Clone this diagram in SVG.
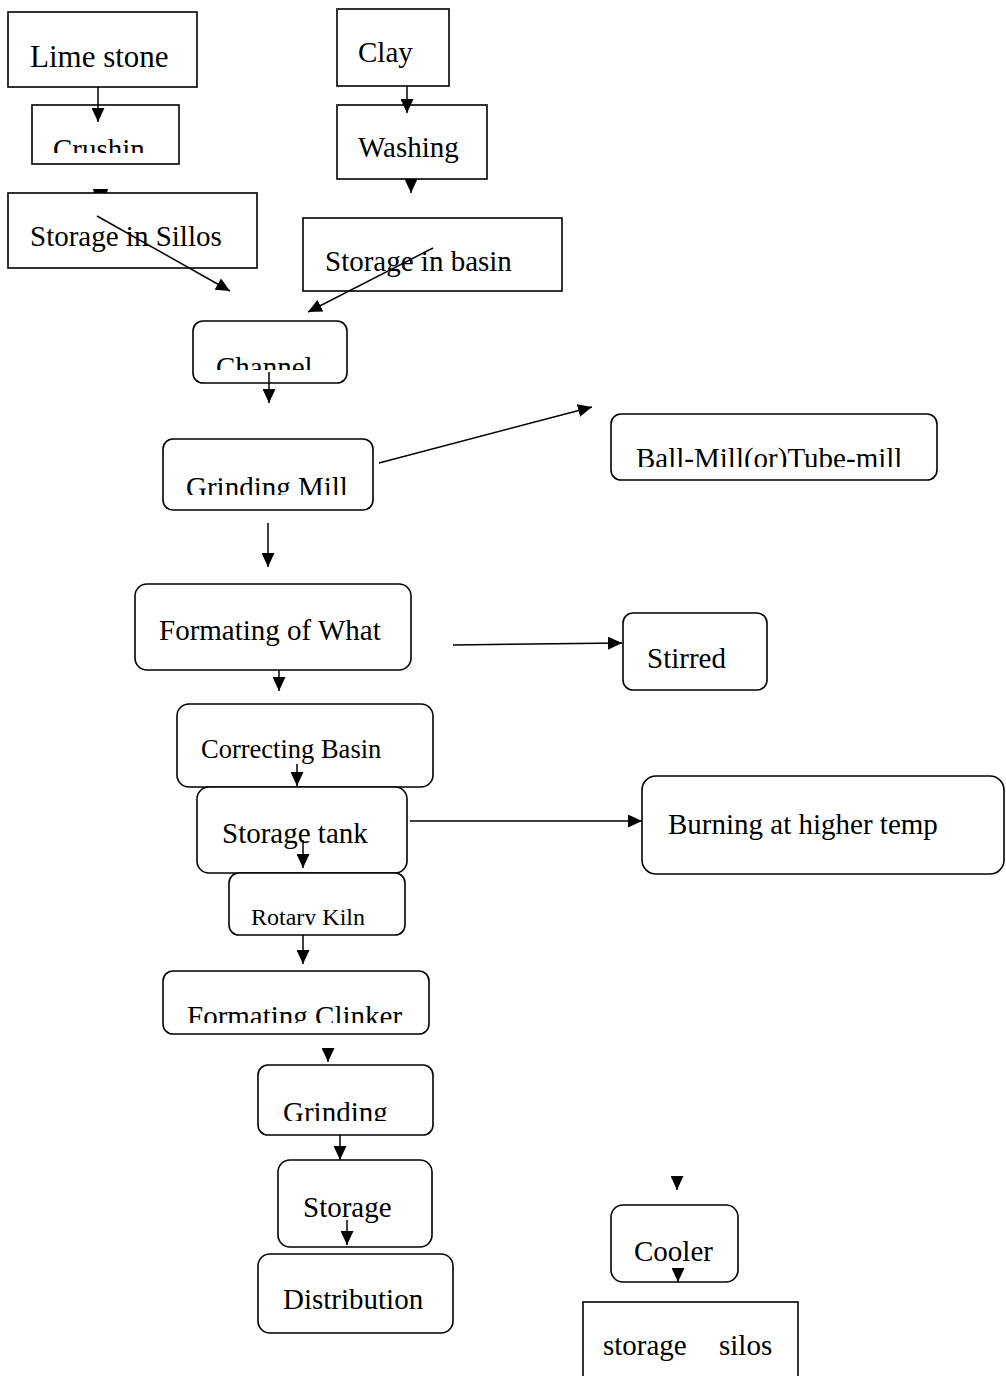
<svg xmlns="http://www.w3.org/2000/svg" width="1006" height="1376" viewBox="0 0 1006 1376">
<style>
.box{fill:#fff;stroke:#000;stroke-width:1.6}
.t{font-family:"Liberation Serif","Times New Roman",serif;font-size:29px;fill:#000}
.c{stroke:#000;stroke-width:1.5;fill:none;marker-end:url(#ah)}
</style>
<defs>
<marker id="ah" viewBox="0 0 10 10" refX="10" refY="5" markerWidth="14" markerHeight="13" markerUnits="userSpaceOnUse" orient="auto" preserveAspectRatio="none"><path d="M0,0 L10,5 L0,10 z" fill="#000"/></marker>
<clipPath id="cpCrush"><rect x="32" y="105" width="147" height="48"/></clipPath>
<clipPath id="cpChan"><rect x="193" y="321" width="154" height="49"/></clipPath>
<clipPath id="cpGM"><rect x="163" y="439" width="210" height="56"/></clipPath>
<clipPath id="cpBall"><rect x="611" y="414" width="326" height="53"/></clipPath>
<clipPath id="cpRot"><rect x="229" y="873" width="176" height="52"/></clipPath>
<clipPath id="cpClk"><rect x="163" y="971" width="266" height="52"/></clipPath>
<clipPath id="cpGr"><rect x="258" y="1065" width="175" height="56"/></clipPath>
</defs>
<rect width="1006" height="1376" fill="#fff"/>
<g id="nodes">
<g id="limestone"><rect class="box" x="8" y="12" width="189" height="75"/><text class="t" x="30" y="67" style="font-size:31px">Lime stone</text></g>
<g id="crushing"><rect class="box" x="32" y="105" width="147" height="59"/><text class="t" x="53" y="159" clip-path="url(#cpCrush)">Crushin</text></g>
<g id="storage-sillos"><rect class="box" x="8" y="193" width="249" height="75"/><text class="t" x="30" y="246">Storage in Sillos</text></g>
<g id="clay"><rect class="box" x="337" y="9" width="112" height="77"/><text class="t" x="358" y="62">Clay</text></g>
<g id="washing"><rect class="box" x="337" y="105" width="150" height="74"/><text class="t" x="358" y="157">Washing</text></g>
<g id="storage-basin"><rect class="box" x="303" y="218" width="259" height="73"/><text class="t" x="325" y="271">Storage in basin</text></g>
<g id="channel"><rect class="box" x="193" y="321" width="154" height="62" rx="10"/><text class="t" x="216" y="377" clip-path="url(#cpChan)">Channel</text></g>
<g id="grinding-mill"><rect class="box" x="163" y="439" width="210" height="71" rx="10"/><text class="t" x="186" y="497" clip-path="url(#cpGM)">Grinding Mill</text></g>
<g id="ball-mill"><rect class="box" x="611" y="414" width="326" height="66" rx="10"/><text class="t" x="636" y="468" clip-path="url(#cpBall)">Ball-Mill(or)Tube-mill</text></g>
<g id="formating-what"><rect class="box" x="135" y="584" width="276" height="86" rx="12"/><text class="t" x="159" y="640">Formating of What</text></g>
<g id="stirred"><rect class="box" x="623" y="613" width="144" height="77" rx="10"/><text class="t" x="647" y="668">Stirred</text></g>
<g id="correcting-basin"><rect class="box" x="177" y="704" width="256" height="83" rx="12"/><text class="t" x="201" y="758" style="font-size:26.5px">Correcting Basin</text></g>
<g id="storage-tank"><rect class="box" x="197" y="787" width="210" height="86" rx="12"/><text class="t" x="222" y="843">Storage tank</text></g>
<g id="burning"><rect class="box" x="642" y="776" width="362" height="98" rx="14"/><text class="t" x="668" y="834">Burning at higher temp</text></g>
<g id="rotary-kiln"><rect class="box" x="229" y="873" width="176" height="62" rx="10"/><text class="t" x="251" y="925" style="font-size:24px" clip-path="url(#cpRot)">Rotary Kiln</text></g>
<g id="formating-clinker"><rect class="box" x="163" y="971" width="266" height="63" rx="10"/><text class="t" x="187" y="1026" clip-path="url(#cpClk)">Formating Clinker</text></g>
<g id="grinding"><rect class="box" x="258" y="1065" width="175" height="70" rx="10"/><text class="t" x="283" y="1122" clip-path="url(#cpGr)">Grinding</text></g>
<g id="storage"><rect class="box" x="278" y="1160" width="154" height="87" rx="12"/><text class="t" x="303" y="1217">Storage</text></g>
<g id="distribution"><rect class="box" x="258" y="1254" width="195" height="79" rx="12"/><text class="t" x="283" y="1309">Distribution</text></g>
<g id="cooler"><rect class="box" x="611" y="1205" width="127" height="77" rx="12"/><text class="t" x="634" y="1261">Cooler</text></g>
<g id="storage-silos"><rect class="box" x="583" y="1302" width="215" height="90"/><text class="t" x="603" y="1355">storage<tspan x="719">silos</tspan></text></g>
</g>
<g id="connectors">
<line class="c" x1="98" y1="87" x2="98" y2="122"/>
<polygon points="93,189 108,189 107,193 94,193" fill="#000"/>
<line class="c" x1="97" y1="216" x2="230" y2="291"/>
<line class="c" x1="407" y1="86" x2="407" y2="113"/>
<line class="c" x1="411" y1="180" x2="411" y2="193"/>
<line class="c" x1="433" y1="248" x2="308" y2="312"/>
<line class="c" x1="269" y1="372" x2="269" y2="403"/>
<line class="c" x1="379" y1="463" x2="592" y2="407"/>
<line class="c" x1="268" y1="523" x2="268" y2="567"/>
<line class="c" x1="453" y1="645" x2="622" y2="643"/>
<line class="c" x1="279" y1="670" x2="279" y2="691"/>
<line class="c" x1="297" y1="764" x2="297" y2="786"/>
<line class="c" x1="410" y1="821" x2="642" y2="821"/>
<line class="c" x1="303" y1="840" x2="303" y2="868"/>
<line class="c" x1="303" y1="935" x2="303" y2="964"/>
<line class="c" x1="328" y1="1049" x2="328" y2="1062"/>
<line class="c" x1="340" y1="1135" x2="340" y2="1160"/>
<line class="c" x1="347" y1="1220" x2="347" y2="1245"/>
<line class="c" x1="677" y1="1177" x2="677" y2="1190"/>
<line class="c" x1="678" y1="1269" x2="678" y2="1282"/>
</g>
</svg>
